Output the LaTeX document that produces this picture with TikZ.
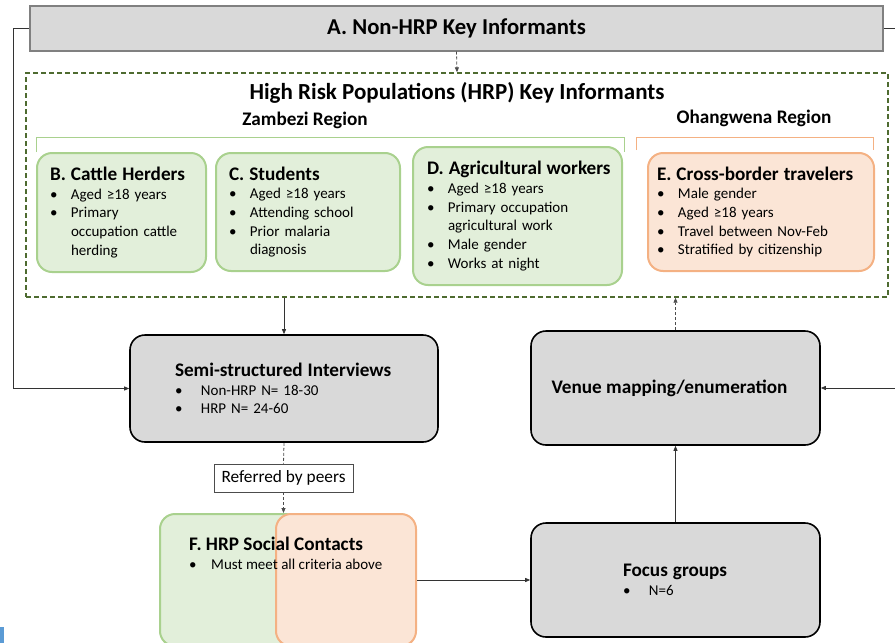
\documentclass[tikz,border=0pt]{standalone}
\usepackage{fontspec}
\setmainfont{Carlito}
\usetikzlibrary{arrows.meta,positioning}
\definecolor{boxgrey}{HTML}{D9D9D9}
\definecolor{greyedge}{HTML}{808080}
\definecolor{greenfill}{HTML}{E2EFDA}
\definecolor{greenedge}{HTML}{A9D18E}
\definecolor{orangefill}{HTML}{FBE5D6}
\definecolor{orangeedge}{HTML}{F4B183}
\definecolor{hrpedge}{HTML}{4E6B30}
\definecolor{markblue}{HTML}{5B9BD5}
\newcommand{\headfont}{\fontsize{19.2}{22}\selectfont\bfseries}
\newcommand{\boxtitle}[1]{{\headfont\mbox{#1}}}
\newcommand{\bul}[2][21pt]{\\\makebox[#1][l]{\textbullet}\mbox{#2}}
\newcommand{\cont}[2][21pt]{\\\hspace*{#1}\mbox{#2}}

\begin{document}
\begin{tikzpicture}
    [
        x=1pt, y=-1pt,
        group box/.style={rounded corners=15pt, line width=2pt, align=left, inner sep=0pt,
            font=\fontsize{15}{18.7}\selectfont},
        green box/.style={group box, draw=greenedge, fill=greenfill},
        orange box/.style={group box, draw=orangeedge, fill=orangefill},
        step box/.style={rounded corners=15pt, line width=1.6pt, draw=black, fill=boxgrey,
            align=left, inner sep=0pt, font=\fontsize{15}{18.5}\selectfont},
        link/.style={-{Triangle[length=5pt,width=4pt]}, line width=0.8pt, draw=black!80},
        dashed link/.style={link, densely dashed, draw=black!70},
        region/.style={font=\fontsize{19.2}{22}\selectfont\bfseries}
    ]
    \useasboundingbox (0,0) rectangle (895,643);
    \clip (0,0) rectangle (895,643);

    % key informants
    \node[draw=greyedge, line width=2pt, fill=boxgrey, minimum width=853, minimum height=45,
        font=\fontsize{22.7}{27}\selectfont\bfseries] (nonhrp) at (456.5,28) {A. Non-HRP Key Informants};
    \node[draw=hrpedge, line width=1.4pt, dash pattern=on 5pt off 3pt,
        minimum width=862, minimum height=224] (hrp) at (457,185) {};
    \node[font=\fontsize{23}{27}\selectfont\bfseries] (hrptitle) at (457,93) {High Risk Populations (HRP) Key Informants};
    \node[region] (zambezi) at (305,120) {Zambezi Region};
    \node[region] (ohangwena) at (754,118) {Ohangwena Region};
    \draw[greenedge, line width=0.8pt] (36,152) -- (36,137) -- (624,137) -- (624,152);
    \draw[orangeedge, line width=0.8pt] (636,150) -- (636,137) -- (873,137) -- (873,150);

    \node[green box, minimum width=169, minimum height=119, text width=143] (herders) at (121.5,212.5)
        {\boxtitle{B. Cattle Herders}\bul{Aged ≥18 years}\bul{Primary}\cont{occupation cattle}\cont{herding}};
    \node[green box, minimum width=184, minimum height=118, text width=158] (students) at (308,212)
        {\boxtitle{C. Students}\bul{Aged ≥18 years}\bul{Attending school}\bul{Prior malaria}\cont{diagnosis}};
    \node[green box, minimum width=209, minimum height=138, text width=181] (farmers) at (517.5,216)
        {\boxtitle{D. Agricultural workers}\bul{Aged ≥18 years}\bul{Primary occupation}\cont{agricultural work}\bul{Male gender}\bul{Works at night}};
    \node[orange box, minimum width=226, minimum height=118, text width=208] (travelers) at (761,212)
        {\boxtitle{E. Cross-border travelers}\bul{Male gender}\bul{Aged ≥18 years}\bul{Travel between Nov-Feb}\bul{Stratified by citizenship}};

    % methods
    \node[step box, minimum width=308, minimum height=107, text width=218] (interviews) at (284,388.5)
        {\boxtitle{Semi-structured Interviews}\bul[26pt]{Non-HRP N= 18-30}\bul[26pt]{HRP N= 24-60}};
    \node[step box, minimum width=289, minimum height=114, align=center,
        font=\headfont] (venue) at (675.5,388) {Venue mapping/enumeration\hspace*{12pt}};
    \node[step box, minimum width=289, minimum height=114, text width=105] (focus) at (675.5,580)
        {\boxtitle{Focus groups}\bul[26pt]{N=6}};
    \node[draw=black!70, line width=0.8pt, fill=white, minimum width=139, minimum height=28,
        font=\fontsize{17.3}{20}\selectfont] (peers) at (283.5,478) {Referred by peers};

    \node[green box, minimum width=140, minimum height=132] (contactsA) at (230,580) {};
    \node[orange box, minimum width=140, minimum height=132] (contactsB) at (346,580) {};
    \node[anchor=north west, inner sep=0pt, align=left, font=\fontsize{15}{19}\selectfont] (contacts) at (189,537)
        {\boxtitle{F. HRP Social Contacts}\bul[22pt]{Must meet all criteria above}};

    \fill[markblue] (0,627) rectangle (4,643);

    % connectors
    \draw[link] (nonhrp.west) -- ++(-16,0) |- (interviews.west);
    \draw[link] (nonhrp.east) -- ++(16,0) |- (venue.east);
    \draw[dashed link] (nonhrp.south) -- (hrp.north);
    \draw[link] (interviews.north |- hrp.south) -- (interviews.north);
    \draw[densely dashed, line width=0.8pt, draw=black!70] (interviews.south) -- (peers.north);
    \draw[dashed link] (peers.south) -- (peers.south |- contactsB.north);
    \draw[link] (contactsB.east) -- (focus.west);
    \draw[link] (focus.north) -- (venue.south);
    \draw[dashed link] (venue.north) -- (venue.north |- hrp.south);
\end{tikzpicture}
\end{document}
